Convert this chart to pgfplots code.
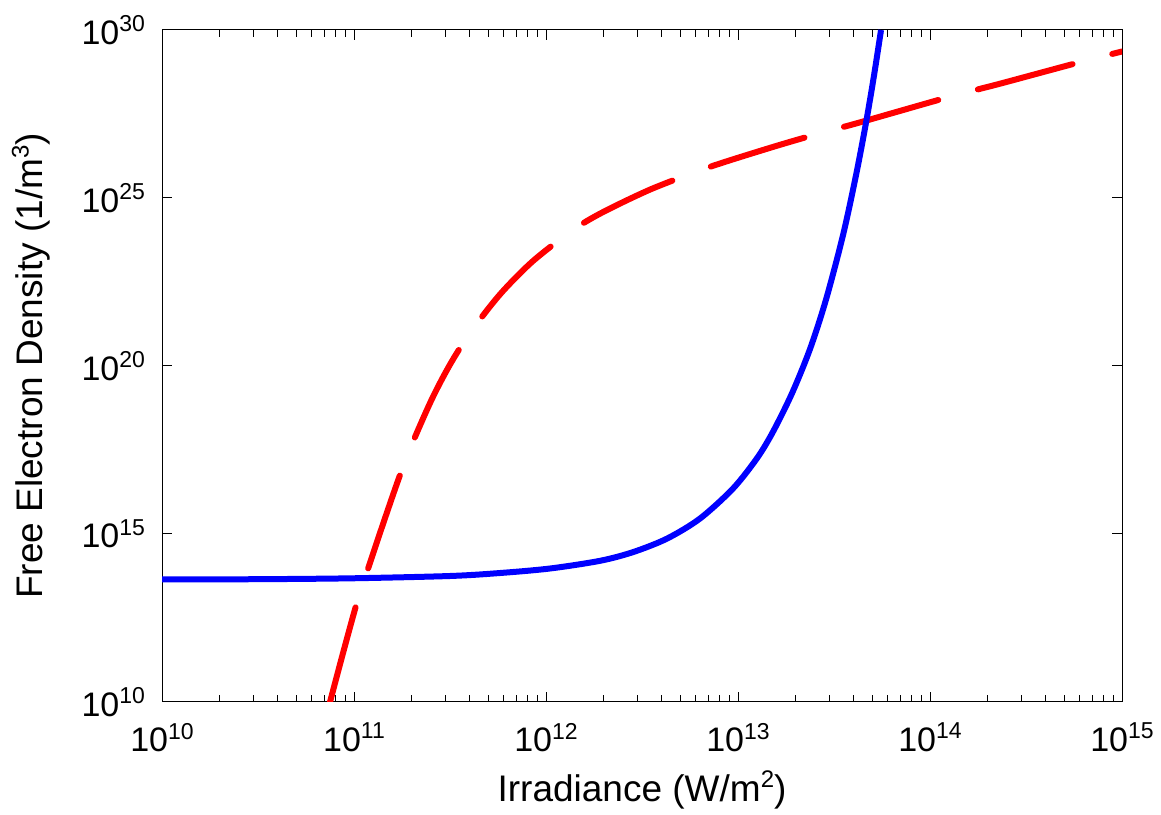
\documentclass[border=0pt]{standalone}
\usepackage{fontspec}
\setmainfont{Liberation Sans}
\usepackage{pgfplots}
\pgfplotsset{compat=1.18}
\newcommand\tf{\fontsize{17}{17}\selectfont}
\newcommand\pw[1]{10\raisebox{6.2pt}{\fontsize{11.5}{11.5}\selectfont #1}}
\newcommand\sq[1]{\raisebox{6.8pt}{\fontsize{12}{12}\selectfont #1}}
\begin{document}
\begin{tikzpicture}
\begin{axis}[
 xmode=log, ymode=log, scale only axis, width=480pt, height=336pt,
 xmin=1e10, xmax=1e15, ymin=1e10, ymax=1e30,
 xtick={1e10,1e11,1e12,1e13,1e14,1e15},
 xticklabels={\pw{10},\pw{11},\pw{12},\pw{13},\pw{14},\pw{15}},
 ytick={1e10,1e15,1e20,1e25,1e30},
 yticklabels={\pw{10},\pw{15},\pw{20},\pw{25},\pw{30}},
 xminorticks=true, yminorticks=false,
 tick align=inside,
 major tick length=5pt, minor tick length=3.3pt,
 every tick/.style={black, line width=0.5pt},
 axis line style={line width=0.5pt},
 ticklabel style={font=\tf},
 xticklabel style={yshift=-7pt},
 yticklabel style={xshift=-5pt},
 xlabel={Irradiance (W/m\sq{2})},
 ylabel={Free Electron Density (1/m\sq{3})},
 label style={font=\fontsize{18.5}{18.5}\selectfont},
 xlabel style={at={(axis description cs:0.5,0)}, anchor=center, yshift=-44pt},
 ylabel style={at={(axis description cs:-0.1365,0.5)}, anchor=center},
]
\addplot[red, line width=3pt, line cap=round, dash pattern=on 49pt off 20.5pt, smooth] table {
7.499e10 1.0e10
8.765e10 2.871e11
1.033e11 8.66e12
1.165e11 7.047e13
1.416e11 1.986e15
1.721e11 4.966e16
2.017e11 5.14e17
2.518e11 9.141e18
3.015e11 6.808e19
3.565e11 3.412e20
4.587e11 2.667e21
5.970e11 1.706e22
8.556e11 1.334e23
1.366e12 1.072e24
1.957e12 3.673e24
3.481e12 1.778e25
6.190e12 6.324e25
8.977e12 1.297e26
1.655e13 3.828e26
2.839e13 9.33e26
4.168e13 1.683e27
1.271e14 1.035e28
2.315e14 2.523e28
5.900e14 1.064e29
1.0e15 2.291e29
};
\addplot[blue, line width=3pt, smooth] table {
1.0e10 4.426e13
3.239e10 4.519e13
9.881e10 4.808e13
3.162e11 5.623e13
5.759e11 6.90e13
1.049e12 9.40e13
1.911e12 1.592e14
2.839e12 2.891e14
4.268e12 7.295e14
6.341e12 2.891e15
9.42e12 2.259e16
1.256e13 1.803e17
1.521e13 1.102e18
1.911e13 1.542e19
2.371e13 3.206e20
2.873e13 9.53e21
3.524e13 7.925e23
4.119e13 4.842e25
4.642e13 1.754e27
5.109e13 4.457e28
5.557e13 1.0e30
};
\end{axis}
\pgfresetboundingbox
\path (-81pt,-56pt) rectangle (499.5pt,351pt);
\end{tikzpicture}
\end{document}
